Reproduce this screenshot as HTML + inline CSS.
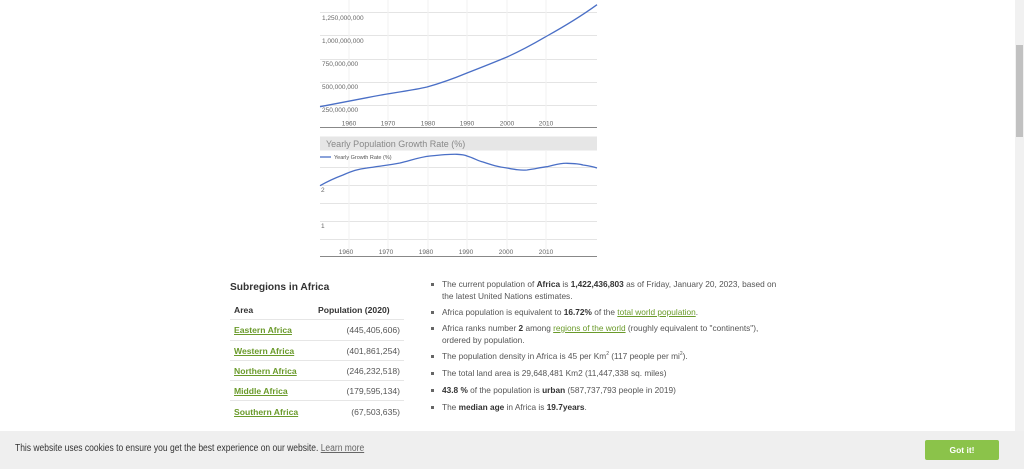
<!DOCTYPE html>
<html><head><meta charset="utf-8"><style>
*{margin:0;padding:0;box-sizing:border-box}
body{width:1024px;height:469px;overflow:hidden;background:#fff;font-family:"Liberation Sans",sans-serif;position:relative;color:#555}
.a{position:absolute;white-space:nowrap}
.t{font-size:8.3px;color:#555}
.t b{color:#333}
.lnk{color:#6a9a2a;text-decoration:underline}
.bl{position:absolute;width:3px;height:3px;background:#666}
.tb{font-size:8.6px}
.tb .g{color:#6a9a2a;font-weight:bold;text-decoration:underline}
.sep{position:absolute;left:230px;width:174px;height:1px;background:#e6e6e6}
</style></head><body>
<svg class="a" style="left:0;top:0" width="1024" height="270" font-family="Liberation Sans" font-size="6.5" fill="#666">
<g stroke="#e4e4e4" stroke-width="1">
<line x1="320" y1="12.5" x2="597" y2="12.5"/><line x1="320" y1="35.5" x2="597" y2="35.5"/><line x1="320" y1="59.5" x2="597" y2="59.5"/><line x1="320" y1="82.5" x2="597" y2="82.5"/><line x1="320" y1="105.5" x2="597" y2="105.5"/>
<line x1="349" y1="0" x2="349" y2="127" stroke="#f2f2f2"/><line x1="388" y1="0" x2="388" y2="127" stroke="#f2f2f2"/><line x1="428" y1="0" x2="428" y2="127" stroke="#f2f2f2"/><line x1="467" y1="0" x2="467" y2="127" stroke="#f2f2f2"/><line x1="507" y1="0" x2="507" y2="127" stroke="#f2f2f2"/><line x1="546" y1="0" x2="546" y2="127" stroke="#f2f2f2"/>
<line x1="320" y1="167.5" x2="597" y2="167.5"/><line x1="320" y1="185.5" x2="597" y2="185.5"/><line x1="320" y1="203.5" x2="597" y2="203.5"/><line x1="320" y1="221.5" x2="597" y2="221.5"/><line x1="320" y1="239.5" x2="597" y2="239.5"/>
<line x1="349" y1="151" x2="349" y2="256" stroke="#f2f2f2"/><line x1="388" y1="151" x2="388" y2="256" stroke="#f2f2f2"/><line x1="428" y1="151" x2="428" y2="256" stroke="#f2f2f2"/><line x1="467" y1="151" x2="467" y2="256" stroke="#f2f2f2"/><line x1="507" y1="151" x2="507" y2="256" stroke="#f2f2f2"/><line x1="546" y1="151" x2="546" y2="256" stroke="#f2f2f2"/>
</g>
<line x1="320" y1="127.5" x2="597" y2="127.5" stroke="#888"/>
<line x1="320" y1="256.5" x2="597" y2="256.5" stroke="#888"/>
<text x="322" y="20">1,250,000,000</text><text x="322" y="43">1,000,000,000</text><text x="322" y="66">750,000,000</text><text x="322" y="89">500,000,000</text><text x="322" y="112">250,000,000</text>
<g text-anchor="middle"><text x="349" y="125.5">1960</text><text x="388" y="125.5">1970</text><text x="428" y="125.5">1980</text><text x="467" y="125.5">1990</text><text x="507" y="125.5">2000</text><text x="546" y="125.5">2010</text>
<text x="346" y="254">1960</text><text x="386" y="254">1970</text><text x="426" y="254">1980</text><text x="466" y="254">1990</text><text x="506" y="254">2000</text><text x="546" y="254">2010</text></g>
<text x="321" y="192">2</text><text x="321" y="228">1</text>
<path d="M320,106.7 C340,103 355,100 367,97.7 C395,92 410,91 427,87 C445,82 455,78 467,73 C485,66 495,62 507,57 C525,49 535,43 547,36 C565,26 580,17 597,4.7" fill="none" stroke="#4a6fc6" stroke-width="1.3"/>
<rect x="320" y="136.5" width="277" height="14" fill="#e6e6e6"/>
<text x="326" y="147" font-size="9" fill="#888">Yearly Population Growth Rate (%)</text>
<line x1="320" y1="157" x2="331" y2="157" stroke="#4a6fc6" stroke-width="1.3"/>
<text x="334" y="159" font-size="5.5" fill="#555">Yearly Growth Rate (%)</text>
<path d="M320,185.7 C330,180 335,178 343,175 C352,171 358,169 367,168 C380,166 390,165 400,163 C412,160 420,157 430,156 C440,155 450,154 457,154.3 C462,154.5 465,155 467,156 C474,158 478,161 483,162 C492,165 498,167 507,168 C515,169.5 520,170.5 527,170 C535,169 540,167.5 547,166.7 C555,165 560,163 567,163.3 C575,163.5 580,164 583,165 C590,166 594,167 597,168" fill="none" stroke="#4a6fc6" stroke-width="1.3"/>
</svg>

<div class="a" style="left:230px;top:282px;font-size:10.2px;font-weight:bold;color:#333">Subregions in Africa</div>
<div class="a tb" style="left:234px;top:305px;font-weight:bold;color:#333">Area</div>
<div class="a tb" style="left:318px;top:305px;font-weight:bold;color:#333">Population (2020)</div>
<div class="sep" style="top:319px"></div><div class="sep" style="top:340px"></div><div class="sep" style="top:360px"></div><div class="sep" style="top:380px"></div><div class="sep" style="top:400px"></div>
<div class="a tb" style="left:234px;top:325px"><span class="g">Eastern Africa</span></div><div class="a tb" style="right:624px;top:325px">(445,405,606)</div>
<div class="a tb" style="left:234px;top:346px"><span class="g">Western Africa</span></div><div class="a tb" style="right:624px;top:346px">(401,861,254)</div>
<div class="a tb" style="left:234px;top:366px"><span class="g">Northern Africa</span></div><div class="a tb" style="right:624px;top:366px">(246,232,518)</div>
<div class="a tb" style="left:234px;top:386px"><span class="g">Middle Africa</span></div><div class="a tb" style="right:624px;top:386px">(179,595,134)</div>
<div class="a tb" style="left:234px;top:407px"><span class="g">Southern Africa</span></div><div class="a tb" style="right:624px;top:407px">(67,503,635)</div>

<div class="bl" style="left:431px;top:283px"></div><div class="a t" style="left:442px;top:279px">The current population of <b>Africa</b> is <b>1,422,436,803</b> as of Friday, January 20, 2023, based on</div>
<div class="a t" style="left:442px;top:291px">the latest United Nations estimates.</div>
<div class="bl" style="left:431px;top:311px"></div><div class="a t" style="left:442px;top:307px">Africa population is equivalent to <b>16.72%</b> of the <span class="lnk">total world population</span>.</div>
<div class="bl" style="left:431px;top:327px"></div><div class="a t" style="left:442px;top:323px">Africa ranks number <b>2</b> among <span class="lnk">regions of the world</span> (roughly equivalent to "continents"),</div>
<div class="a t" style="left:442px;top:335px">ordered by population.</div>
<div class="bl" style="left:431px;top:355px"></div><div class="a t" style="left:442px;top:351px">The population density in Africa is 45 per Km<sup style="font-size:5px">2</sup> (117 people per mi<sup style="font-size:5px">2</sup>).</div>
<div class="bl" style="left:431px;top:372px"></div><div class="a t" style="left:442px;top:368px">The total land area is 29,648,481 Km2 (11,447,338 sq. miles)</div>
<div class="bl" style="left:431px;top:389px"></div><div class="a t" style="left:442px;top:385px"><b>43.8 %</b> of the population is <b>urban</b> (587,737,793 people in 2019)</div>
<div class="bl" style="left:431px;top:406px"></div><div class="a t" style="left:442px;top:402px">The <b>median age</b> in Africa is <b>19.7years</b>.</div>

<div class="a" style="left:1015px;top:0;width:9px;height:431px;background:#f1f1f1"></div>
<div class="a" style="left:1016px;top:45px;width:7px;height:92px;background:#c1c1c1"></div>

<div class="a" style="left:0;top:431px;width:1024px;height:38px;background:#efefef"></div>
<div class="a" style="left:15px;top:443px;font-size:10px;color:#333;transform:scaleX(0.85);transform-origin:left">This website uses cookies to ensure you get the best experience on our website. <span style="text-decoration:underline;color:#666">Learn more</span></div>
<div class="a" style="left:925px;top:440px;width:74px;height:20px;background:#8bc34a;border-radius:2px;color:#fff;font-size:8.5px;font-weight:bold;text-align:center;line-height:20px">Got it!</div>
</body></html>
